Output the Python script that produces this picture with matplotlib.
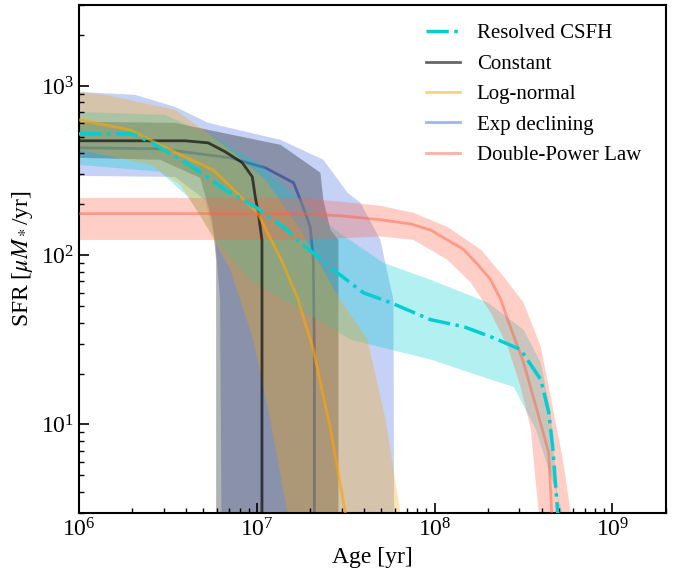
import numpy as np
import matplotlib
matplotlib.use("Agg")
import matplotlib.pyplot as plt

plt.rcParams['font.family'] = ['Liberation Serif', 'DejaVu Serif']
plt.rcParams['mathtext.fontset'] = 'stix'

# ---------------- data (age [yr], SFR [Msun/yr]) ----------------
# Resolved CSFH
res_age = [1e6, 1.99e6, 2.58e6, 4.34e6, 6.65e6, 9.8e6, 1.41e7, 1.76e7, 2.70e7, 3.98e7,
           5.65e7, 9.5e7, 1.46e8, 2.07e8, 3.05e8, 3.96e8, 4.39e8, 4.62e8, 4.93e8, 4.95e8]
res_sfr = [521, 521, 461, 333, 243, 193, 147, 119, 82, 60,
           52.5, 41.6, 37.8, 33, 27.7, 18.4, 11.8, 7.4, 3.0, 1.0]
res_up_age = [1e6, 3.05e6, 6.22e6, 1.05e7, 1.76e7, 2.84e7, 5.16e7, 9.5e7, 1.99e8, 3.17e8,
              3.96e8, 4.5e8, 5.0e8, 5.05e8]
res_up_sfr = [703, 674, 480, 342, 212, 138, 90, 71.6, 52.5, 36.3,
              23.2, 11.8, 3.0, 1.0]
res_lo_age = [1e6, 2.86e6, 4.11e6, 5.84e6, 9.18e6, 1.76e7, 3.37e7, 9.5e7, 2.07e8, 2.79e8,
              3.71e8, 4.39e8, 5.26e8, 5.5e8]
res_lo_sfr = [342, 311, 221, 123, 71.6, 47.6, 31.7, 24.2, 18.4, 16.7,
              9.4, 5.4, 3.0, 1.0]

# Constant
con_age = [1e6, 3.95e6, 5.33e6, 6.65e6, 8.29e6, 9.44e6, 9.81e6, 1.02e7, 1.07e7, 1.07e7]
con_sfr = [474, 474, 461, 408, 352, 290, 221, 178, 123, 0.5]
con_up_age = [1e6, 3.47e6, 5.33e6, 1.12e7, 1.36e7, 2.28e7, 2.37e7, 2.60e7, 2.88e7, 2.88e7]
con_up_sfr = [614, 605, 550, 468, 449, 307, 212, 141, 123, 0.5]
con_lo_age = [1e6, 2.86e6, 4.81e6, 5.61e6, 5.91e6, 5.91e6]
con_lo_sfr = [376, 366, 286, 162, 94, 0.5]

# Log-normal
logn_age = [1e6, 1.94e6, 3.71e6, 5.69e6, 1.01e7, 1.39e7, 1.71e7, 2.08e7, 2.60e7, 3.15e7, 3.37e7]
logn_sfr = [630, 550, 392, 319, 178, 91.6, 54.6, 27.7, 9.4, 3.0, 1.6]
logn_up_age = [1e6, 1.50e6, 3.47e6, 7.1e6, 1.12e7, 1.76e7, 2.95e7, 4.2e7, 5.3e7, 6.43e7, 6.69e7]
logn_up_sfr = [922, 873, 722, 419, 279, 141, 54.6, 31.7, 10.7, 3.0, 1.6]
logn_lo_age = [1e6, 2.51e6, 3.71e6, 4.81e6, 7.1e6, 9.55e6, 1.19e7, 1.49e7, 1.55e7]
logn_lo_sfr = [419, 342, 261, 173, 82, 31.7, 10.7, 3.0, 1.6]

# Exp declining
exp_age = [1e6, 2.86e6, 7.1e6, 1.12e7, 1.61e7, 1.76e7, 2.0e7, 2.08e7, 2.11e7, 2.11e7]
exp_sfr = [431, 425, 376, 328, 268, 212, 147, 94, 24, 0.5]
exp_up_age = [1e6, 2.07e6, 3.47e6, 5.33e6, 1.36e7, 2.37e7, 3.24e7, 3.83e7, 4.96e7, 5.43e7,
              5.87e7, 5.96e7]
exp_up_sfr = [922, 885, 752, 605, 480, 366, 234, 204, 123, 79, 54.6, 0.5]
exp_lo_age = [1e6, 3.47e6, 5.13e6, 5.84e6, 6.22e6, 6.4e6]
exp_lo_sfr = [294, 290, 212, 123, 54.6, 0.5]

# Double-Power Law
dpl_age = [1e6, 1.76e7, 2.95e7, 4.96e7, 7.33e7, 9.5e7, 1.18e8, 1.46e8, 1.75e8, 2.07e8,
           2.36e8, 2.58e8, 3.17e8, 3.80e8, 4.39e8, 4.56e8, 4.68e8]
dpl_sfr = [176, 176, 171, 162, 153, 141, 123, 108, 88, 71.6,
           54.6, 41.6, 23.2, 11.8, 6.8, 3.0, 1.4]
dpl_up_age = [1e6, 1.76e7, 4.96e7, 7.62e7, 1.18e8, 1.82e8, 2.45e8, 3.17e8, 3.96e8, 4.5e8,
              5.3e8, 5.84e8, 6.07e8]
dpl_up_sfr = [218, 218, 196, 178, 147, 108, 74.6, 52.5, 28.8, 14.6, 6.0, 3.0, 1.4]
dpl_lo_age = [1e6, 1.76e7, 4.96e7, 7.62e7, 1.18e8, 1.6e8, 2.07e8, 2.58e8, 3.05e8, 3.48e8,
              3.7e8, 3.86e8, 3.96e8]
dpl_lo_sfr = [123, 123, 129, 123, 94, 68.9, 45.8, 28.8, 16.7, 9.4, 4.7, 3.0, 1.4]

labels = ['Resolved CSFH', 'Constant', 'Log-normal', 'Exp declining', 'Double-Power Law']
colors = ['darkturquoise', 'black', 'orange', 'royalblue', 'tomato']

# ---------------- plot ----------------
fig = plt.figure(figsize=(6.78, 5.70), dpi=100)
ax = fig.add_axes([0.1165, 0.100, 0.8655, 0.891])


def band(ax, ua, us, la, ls, color, alpha, z):
    xs = np.concatenate([ua, la[::-1]])
    ys = np.concatenate([us, ls[::-1]])
    ax.fill(xs, ys, color=color, alpha=alpha, lw=0, zorder=z)


band(ax, exp_up_age, exp_up_sfr, exp_lo_age, exp_lo_sfr, colors[3], 0.3, 1.0)
l_exp, = ax.plot(exp_age, exp_sfr, color=colors[3], lw=2, alpha=0.7, zorder=1.1)
band(ax, con_up_age, con_up_sfr, con_lo_age, con_lo_sfr, colors[1], 0.3, 1.2)
band(ax, res_up_age, res_up_sfr, res_lo_age, res_lo_sfr, colors[0], 0.3, 1.3)
band(ax, logn_up_age, logn_up_sfr, logn_lo_age, logn_lo_sfr, colors[2], 0.3, 1.4)
band(ax, dpl_up_age, dpl_up_sfr, dpl_lo_age, dpl_lo_sfr, colors[4], 0.3, 1.5)

l_res, = ax.plot(res_age, res_sfr, ls='-.', color=colors[0], lw=2.5, zorder=5)
l_con, = ax.plot(con_age, con_sfr, color=colors[1], lw=2, alpha=0.65, zorder=3)
l_logn, = ax.plot(logn_age, logn_sfr, color=colors[2], lw=2, alpha=0.65, zorder=3)
l_dpl, = ax.plot(dpl_age, dpl_sfr, color=colors[4], lw=2, alpha=0.5, zorder=3)

ax.set_xscale('log')
ax.set_yscale('log')
ax.set_xlim(1e6, 2e9)
ax.set_ylim(3, 3000)
ax.set_xlabel('Age [yr]', fontsize=17)
ax.set_ylabel(r'SFR [$\mu M_*$/yr]', fontsize=17)
ax.tick_params(which='both', direction='in', top=False, right=False, labelsize=17)
ax.tick_params(which='major', length=7, width=1.2)
ax.tick_params(which='minor', length=3.5, width=1)
for s in ax.spines.values():
    s.set_linewidth(1.5)

# legend handles shown lighter, as in the reference
h_con = plt.Line2D([], [], color=colors[1], lw=2, alpha=0.6)
h_logn = plt.Line2D([], [], color=colors[2], lw=2, alpha=0.5)
h_exp = plt.Line2D([], [], color=colors[3], lw=2, alpha=0.5)
h_dpl = plt.Line2D([], [], color=colors[4], lw=2, alpha=0.5)
ax.legend([l_res, h_con, h_logn, h_exp, h_dpl], labels,
          loc='upper right', frameon=False, fontsize=15, handlelength=1.65,
          labelspacing=0.52, bbox_to_anchor=(0.99, 1.0))

fig.savefig('out.png', dpi=100)
